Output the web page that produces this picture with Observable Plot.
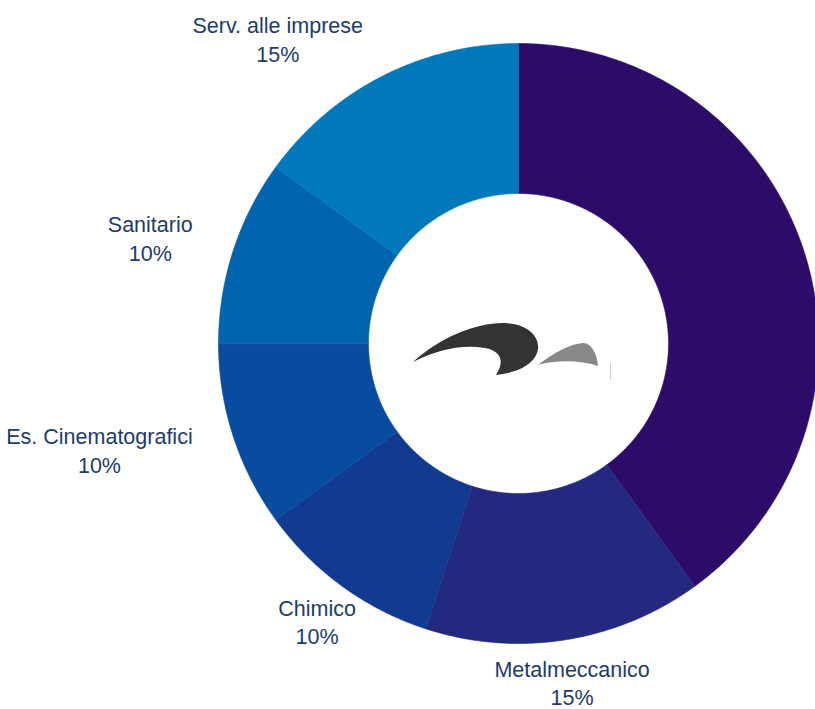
<!DOCTYPE html>
<html>
<head>
<meta charset="utf-8">
<script src="https://cdn.jsdelivr.net/npm/d3@7"></script>
<script src="https://cdn.jsdelivr.net/npm/@observablehq/plot@0.6"></script>
<style>
  html, body { margin: 0; padding: 0; background: #fff; overflow: hidden; }
</style>
</head>
<body>
<div id="chart"></div>
<script>
// ---- data ----
const names = ["Altro", "Metalmeccanico", "Chimico", "Es. Cinematografici", "Sanitario", "Serv. alle imprese"];
const values = [40, 15, 10, 10, 10, 15];
const colors = ["#2d0b69", "#23297f", "#133a91", "#084c9f", "#0064ae", "#0079ba"];

// ---- layout ----
const W = 815, H = 709;
const CX = 518, CY = 343, R = 300;  // pixel center and outer radius
const inner = 0.5, labelR = 1.142;
const FONT = "Liberation Sans, Arial, sans-serif", FS = 21.5;
const total = d3.sum(values);

let acc = 0;
const slices = names.map((name, i) => {
  const a0 = acc / total * 2 * Math.PI;
  acc += values[i];
  const a1 = acc / total * 2 * Math.PI;
  return {name, value: values[i], a0, a1, mid: (a0 + a1) / 2, pct: Math.round(values[i] / total * 100)};
});

// polygon outlines of each ring segment (angle measured clockwise from 12 o'clock)
const ring = [];
for (const s of slices) {
  const n = Math.max(2, Math.ceil((s.a1 - s.a0) / (Math.PI / 360)));
  for (let k = 0; k <= n; k++) {
    const a = s.a0 + (s.a1 - s.a0) * k / n;
    ring.push({name: s.name, x: Math.sin(a), y: Math.cos(a)});
  }
  for (let k = n; k >= 0; k--) {
    const a = s.a0 + (s.a1 - s.a0) * k / n;
    ring.push({name: s.name, x: inner * Math.sin(a), y: inner * Math.cos(a)});
  }
}

// text width measurement so label blocks sit beside their anchor with centred lines
const ctx = document.createElement("canvas").getContext("2d");
ctx.font = `${FS}px ${FONT}`;
const textWidth = t => d3.max(t.split("\n"), l => ctx.measureText(l).width);

const labels = slices.map(s => {
  const sx = Math.sin(s.mid), cy = Math.cos(s.mid);
  const text = `${s.name}\n${s.pct}%`;
  const half = textWidth(text) / 2 / R;
  const shift = cy < -0.7 ? 0 : (sx < 0 ? -half : half);
  return {text, x: labelR * sx + shift, y: labelR * cy, ax: labelR * sx};
}).filter(d => d.ax * R + CX < W && d.ax * R + CX > 0);

// decorative centre logo
function logo(index, scales) {
  const g = d3.create("svg:g")
    .attr("transform", `translate(${scales.x(0)},${scales.y(0)})`);
  g.append("path")
    .attr("d", "M-105,19 C-78,-6 -40,-21 -13,-20 C12,-19 24,-4 19,10 C14,23 -3,30 -22,32 C-13,18 -17,8 -33,5 C-58,1 -83,8 -105,19 Z")
    .attr("fill", "#333");
  g.append("path")
    .attr("d", "M20,22 C37,9 52,1 65,0 C74,0 79,12 80,23 C62,17 37,17 20,22 Z")
    .attr("fill", "#888");
  g.append("rect").attr("x", 92).attr("y", 20).attr("width", 1).attr("height", 17).attr("fill", "#ccc");
  return g.node();
}

const plot = Plot.plot({
  width: W, height: H,
  margin: 0,
  x: {domain: [-CX / R, (W - CX) / R], axis: null},
  y: {domain: [(CY - H) / R, CY / R], axis: null},
  color: {domain: names, range: colors},
  style: {fontFamily: FONT, background: "#fff"},
  marks: [
    Plot.line(ring, {x: "x", y: "y", z: "name", fill: "name", stroke: "name", strokeWidth: 0.6, curve: "linear-closed"}),
    logo,
    Plot.text(labels, {
      x: "x", y: "y", text: "text", textAnchor: "middle", lineAnchor: "middle",
      fontSize: FS, lineHeight: 1.33, fill: "#1d3b6b", fontFamily: FONT
    })
  ]
});

document.getElementById("chart").appendChild(plot);
</script>
</body>
</html>
